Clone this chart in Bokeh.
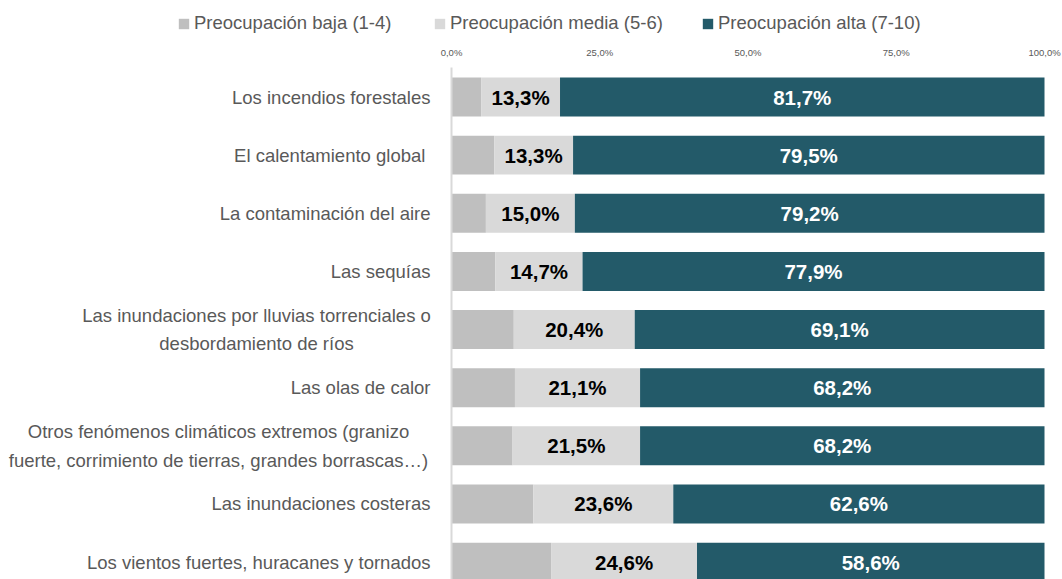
from bokeh.plotting import figure
from bokeh.models import ColumnDataSource, Range1d, Legend, LegendItem
from bokeh.core.properties import value
from bokeh.embed import file_html
from bokeh.resources import INLINE

categories = [
    "Los incendios forestales",
    "El calentamiento global ",
    "La contaminación del aire",
    "Las sequías",
    "Las inundaciones por lluvias torrenciales o\ndesbordamiento de ríos",
    "Las olas de calor",
    "Otros fenómenos climáticos extremos (granizo\nfuerte, corrimiento de tierras, grandes borrascas…)",
    "Las inundaciones costeras",
    "Los vientos fuertes, huracanes y tornados",
]
baja = [5.0, 7.2, 5.8, 7.4, 10.5, 10.7, 10.3, 13.8, 16.8]
media = [13.3, 13.3, 15.0, 14.7, 20.4, 21.1, 21.5, 23.6, 24.6]
alta = [81.7, 79.5, 79.2, 77.9, 69.1, 68.2, 68.2, 62.6, 58.6]
series_names = ["Preocupación baja (1-4)", "Preocupación media (5-6)", "Preocupación alta (7-10)"]
tick_values = [0, 25, 50, 75, 100]
tick_labels = ["0,0%", "25,0%", "50,0%", "75,0%", "100,0%"]

FONT = value("Liberation Sans")
COLORS = ["#bfbfbf", "#d9d9d9", "#235a69"]
TXT = "#595959"

def fmt(v):
    return f"{v:.1f}".replace(".", ",") + "%"

n = len(categories)
ys = list(range(n))
src = ColumnDataSource(dict(y=ys, baja=baja, media=media, alta=alta))

# frame covers whole figure; scale: 5.93 px per % (0 at x=451), 58.14 px per row
W, H = 1062, 579
X0, PXX = 451, 5.93
Y0, PXY = 96.5, 58.14
p = figure(width=W, height=H, output_backend="svg", toolbar_location=None,
           x_range=Range1d(-X0 / PXX, (W - X0) / PXX),
           y_range=Range1d(start=(H - Y0) / PXY, end=-Y0 / PXY),
           min_border=0, min_border_left=0, min_border_right=0,
           min_border_top=0, min_border_bottom=0)
p.outline_line_color = None
p.xgrid.visible = False
p.ygrid.visible = False
p.xaxis.visible = False
p.yaxis.visible = False

rs = p.hbar_stack(["baja", "media", "alta"], y="y", height=0.67, color=COLORS,
                  line_color=None, source=src)

# axis line at 0
axis_top = (67 - Y0) / PXY
p.segment(x0=[0], y0=[axis_top], x1=[0], y1=[(H - Y0) / PXY],
          line_color="#d9d9d9", line_width=2)

# tick labels (top axis)
tick_y = (52 - Y0) / PXY
p.text(x=tick_values, y=[tick_y] * len(tick_values), text=tick_labels,
       text_align="center", text_baseline="middle", text_font=FONT,
       text_font_size="9.5px", text_color=TXT)

# value labels
media_c = [b + m / 2 for b, m in zip(baja, media)]
alta_c = [b + m + a / 2 for b, m, a in zip(baja, media, alta)]
p.text(x=media_c, y=ys, text=[fmt(v) for v in media], text_align="center",
       text_baseline="middle", text_font=FONT, text_font_style="bold",
       text_font_size="20.5px", text_color="#000000")
p.text(x=alta_c, y=ys, text=[fmt(v) for v in alta], text_align="center",
       text_baseline="middle", text_font=FONT, text_font_style="bold",
       text_font_size="20.5px", text_color="#ffffff")

# category labels
single = [(i, c) for i, c in enumerate(categories) if "\n" not in c]
multi = [(i, c) for i, c in enumerate(categories) if "\n" in c]
multi_offsets = {4: -195, 6: -233}
p.text(x=[0] * len(single), y=[i for i, _ in single], text=[c for _, c in single],
       x_offset=-21, text_align="right", text_baseline="middle", text_font=FONT,
       text_font_size="18.5px", text_color=TXT)
p.text(x=[0] * len(multi), y=[i for i, _ in multi], text=[c for _, c in multi],
       x_offset=[multi_offsets[i] for i, _ in multi], text_align="center",
       text_baseline="middle", text_font=FONT, text_font_size="18.5px",
       text_color=TXT, text_line_height=1.35)

# legends
leg_x = [177, 433, 701]
for r, name, lx in zip(rs, series_names, leg_x):
    lg = Legend(items=[LegendItem(label=name, renderers=[r])], location=(lx, H - 23 - 11),
                orientation="horizontal", padding=0, margin=0, spacing=0,
                border_line_color=None, background_fill_alpha=0,
                glyph_width=13, glyph_height=13, label_standoff=4,
                label_text_font="Liberation Sans", label_text_font_size="18.5px",
                label_text_color=TXT, label_height=22)
    p.add_layout(lg)

open("out.html", "w").write(file_html(p, INLINE))
